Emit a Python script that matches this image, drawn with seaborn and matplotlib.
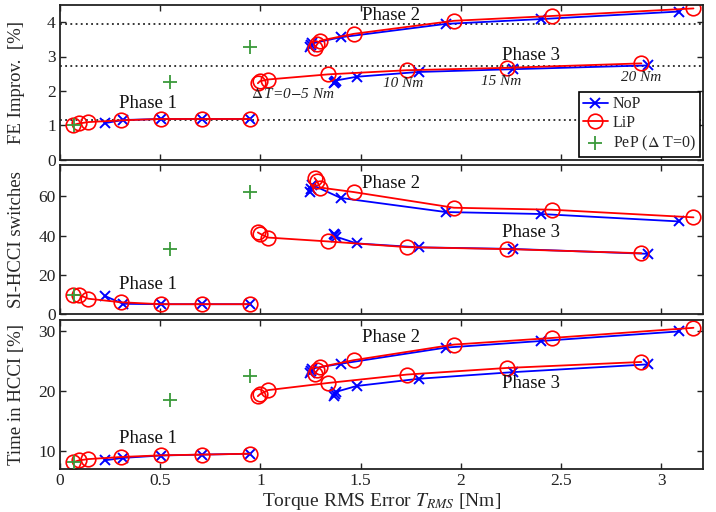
import numpy as np
import pandas as pd
import matplotlib
matplotlib.use("Agg")
import matplotlib.pyplot as plt
import seaborn as sns

# ---------------- data ----------------
# x: Torque RMS error [Nm]
p1_nop_x = [0.224, 0.314, 0.502, 0.708, 0.948]
p1_lip_x = [0.067, 0.096, 0.141, 0.303, 0.502, 0.708, 0.948]
p2_nop_x = [1.245, 1.250, 1.255, 1.400, 1.925, 2.400, 3.090]
p2_lip_x = [1.270, 1.283, 1.297, 1.465, 1.965, 2.452, 3.160]
p3_nop_x = [1.365, 1.370, 1.375, 1.480, 1.790, 2.258, 2.931]
p3_lip_x = [0.987, 0.997, 1.037, 1.338, 1.730, 2.228, 2.900]
pep_x = [0.070, 0.547, 0.950]

# FE improvement [%]
fe_p1_nop = [1.06, 1.15, 1.18, 1.18, 1.18]
fe_p1_lip = [1.01, 1.05, 1.09, 1.14, 1.18, 1.18, 1.18]
fe_p2_nop = [3.28, 3.33, 3.38, 3.56, 3.95, 4.09, 4.31]
fe_p2_lip = [3.25, 3.36, 3.46, 3.66, 4.04, 4.18, 4.40]
fe_p3_nop = [2.22, 2.26, 2.30, 2.41, 2.55, 2.63, 2.74]
fe_p3_lip = [2.22, 2.28, 2.33, 2.48, 2.60, 2.67, 2.80]
fe_pep = [1.01, 2.26, 3.29]
fe_ref_lines = [3.94, 2.73, 1.16]

# SI-HCCI switches
sw_p1_nop = [9.2, 5.2, 5.0, 5.0, 5.0]
sw_p1_lip = [9.8, 9.7, 7.8, 6.0, 5.0, 5.0, 5.0]
sw_p2_nop = [62.0, 64.0, 66.0, 59.2, 52.0, 51.0, 47.2]
sw_p2_lip = [69.4, 67.6, 64.5, 62.2, 54.2, 53.2, 49.3]
sw_p3_nop = [41.0, 40.2, 39.5, 36.0, 34.0, 33.2, 30.7]
sw_p3_lip = [41.6, 41.0, 39.0, 37.0, 34.1, 33.1, 31.0]
sw_pep = [9.8, 33.1, 62.2]

# Time in HCCI [%]
th_p1_nop = [8.5, 8.9, 9.3, 9.45, 9.6]
th_p1_lip = [8.2, 8.5, 8.7, 9.05, 9.33, 9.45, 9.6]
th_p2_nop = [23.0, 23.4, 23.8, 24.6, 27.3, 28.4, 30.0]
th_p2_lip = [22.9, 23.5, 24.05, 25.2, 27.8, 28.9, 30.6]
th_p3_nop = [19.3, 19.6, 19.9, 20.9, 22.1, 23.2, 24.5]
th_p3_lip = [19.2, 19.5, 20.2, 21.4, 22.8, 23.9, 24.9]
th_pep = [8.2, 18.6, 22.6]

ylabels = ["FE Improv.  [%]", "SI-HCCI switches", "Time in HCCI [%]"]
xlabel = r"Torque RMS Error $T_{RMS}$ [Nm]"
phase_labels = ["Phase 1", "Phase 2", "Phase 3"]
dt_labels = [r"$\Delta\,$T=0$-$5 Nm", "10 Nm", "15 Nm", "20 Nm"]

# ---------------- style ----------------
sns.set_theme(style="ticks")
plt.rcParams["font.family"] = ["Liberation Serif", "DejaVu Serif"]
plt.rcParams["mathtext.fontset"] = "stix"
plt.rcParams["axes.linewidth"] = 1.3
plt.rcParams["xtick.direction"] = "in"
plt.rcParams["ytick.direction"] = "in"

BLUE = "#0000ff"
RED = "#ff0000"
GREEN = "#3a9a3a"

fig = plt.figure(figsize=(7.16, 5.12), dpi=100)
W, H = 716.0, 512.0
left = 60 / W
width = (702.5 - 60) / W
ax1 = fig.add_axes([left, 1 - 159.5 / H, width, (159.5 - 5) / H])
ax2 = fig.add_axes([left, 1 - 314 / H, width, (314 - 165) / H])
ax3 = fig.add_axes([left, 1 - 469 / H, width, (469 - 320) / H])
axes = [ax1, ax2, ax3]

metric_sets = [
    (fe_p1_nop, fe_p1_lip, fe_p2_nop, fe_p2_lip, fe_p3_nop, fe_p3_lip, fe_pep),
    (sw_p1_nop, sw_p1_lip, sw_p2_nop, sw_p2_lip, sw_p3_nop, sw_p3_lip, sw_pep),
    (th_p1_nop, th_p1_lip, th_p2_nop, th_p2_lip, th_p3_nop, th_p3_lip, th_pep),
]

nop_kw = dict(color=BLUE, marker="x", markersize=7.5, markeredgewidth=1.4,
              markeredgecolor=BLUE, markerfacecolor=BLUE,
              linewidth=1.3, sort=False, estimator=None)
lip_kw = dict(color=RED, marker="o", markersize=10.5, markerfacecolor="none",
              markeredgecolor=RED, markeredgewidth=1.2, linewidth=1.3,
              sort=False, estimator=None)

for i, (ax, ms) in enumerate(zip(axes, metric_sets)):
    n1, l1, n2, l2, n3, l3, pp = ms
    for j, (xn, yn, xl, yl) in enumerate([(p1_nop_x, n1, p1_lip_x, l1),
                                          (p2_nop_x, n2, p2_lip_x, l2),
                                          (p3_nop_x, n3, p3_lip_x, l3)]):
        lab_n = "NoP" if (i == 0 and j == 0) else None
        lab_l = "LiP" if (i == 0 and j == 0) else None
        sns.lineplot(x=xn, y=yn, ax=ax, label=lab_n, **nop_kw)
        sns.lineplot(x=xl, y=yl, ax=ax, label=lab_l, **lip_kw)
    sns.scatterplot(x=pep_x, y=pp, ax=ax, marker="+", s=100, color=GREEN,
                    linewidth=1.3, label=(r"PeP ($\Delta$ T=0)" if i == 0 else None),
                    zorder=5)
    ax.set_xlim(0, 3.205)
    ax.set_xticks([0, 0.5, 1, 1.5, 2, 2.5, 3])
    ax.tick_params(which="both", top=True, right=True, length=4, width=1,
                   labelsize=12.5, colors="#222222", pad=3)
    ax.set_ylabel(ylabels[i], fontsize=13.5)
    for s in ax.spines.values():
        s.set_color("#222222")

for y in fe_ref_lines:
    ax1.axhline(y, color="black", linestyle=(0, (1.2, 2.2)), linewidth=1.1, zorder=1)

ax1.set_ylim(0, 4.5)
ax1.set_yticks([0, 1, 2, 3, 4])
ax2.set_ylim(0, 76)
ax2.set_yticks([0, 20, 40, 60])
ax3.set_ylim(7.05, 31.9)
ax3.set_yticks([10, 20, 30])
for ax in (ax1, ax2):
    ax.set_xticklabels([])
ax3.set_xticklabels(["0", "0.5", "1", "1.5", "2", "2.5", "3"])
ax3.set_xlabel(xlabel, fontsize=14, labelpad=1)

for ax in axes:
    ax.yaxis.set_label_coords(-0.055, 0.5)

# phase annotations
ph_pos = [
    [(0.44, 1.64), (1.65, 4.2), (2.35, 3.02)],
    [(0.44, 14.8), (1.65, 66.8), (2.35, 41.6)],
    [(0.44, 12.1), (1.65, 29.05), (2.35, 21.3)],
]
for ax, pos in zip(axes, ph_pos):
    for lab, (x, y) in zip(phase_labels, pos):
        ax.text(x, y, lab, fontsize=13.5, ha="center", va="center", color="#111111")

dt_pos = [(1.16, 1.92), (1.71, 2.2), (2.2, 2.28), (2.9, 2.38)]
for lab, (x, y) in zip(dt_labels, dt_pos):
    ax1.text(x, y, lab, fontsize=11, ha="center", va="center", style="italic",
             color="#222222")

leg = ax1.legend(loc="lower right", fontsize=11.5, frameon=True, fancybox=False,
                 handlelength=1.6, handletextpad=0.3, borderpad=0.25,
                 labelspacing=0.18, borderaxespad=0.15)
leg.get_frame().set_edgecolor("black")
leg.get_frame().set_linewidth(1.2)
leg.get_frame().set_alpha(1)

fig.savefig("out.png", dpi=100)
